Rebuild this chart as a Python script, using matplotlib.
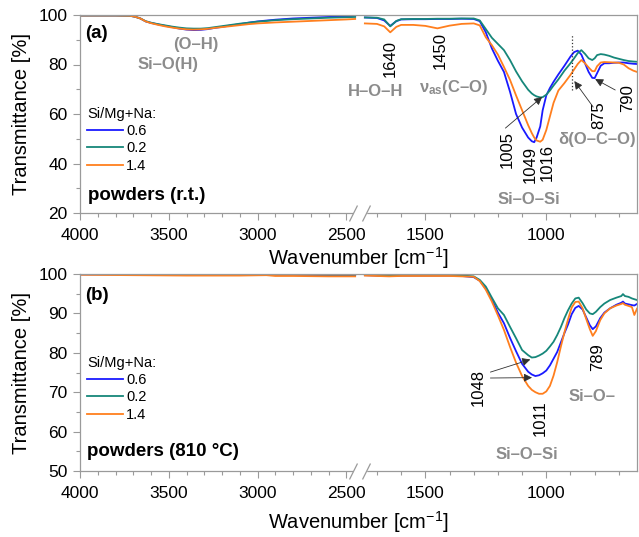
import numpy as np
import matplotlib
matplotlib.use("Agg")
import matplotlib.pyplot as plt
from matplotlib.scale import FuncScale
from matplotlib.ticker import FixedLocator
import matplotlib.transforms as mtransforms

plt.rcParams['font.family'] = ['Liberation Sans', 'DejaVu Sans']
plt.rcParams['mathtext.fontset'] = 'custom'
plt.rcParams['mathtext.rm'] = 'Liberation Sans'
plt.rcParams['mathtext.bf'] = 'Liberation Sans:bold'
plt.rcParams['mathtext.it'] = 'Liberation Sans:italic'

# ---------------- data ----------------
series_labels = ['0.6', '0.2', '1.4']
series_colors = ['#1a1aff', '#16877a', '#ff7f1e']

# panel (a) powders (r.t.) -- high wavenumber segment
wl_a = [4000, 3900, 3800, 3720, 3690, 3660, 3630, 3600, 3560, 3520, 3480, 3440, 3400, 3360,
        3320, 3280, 3240, 3200, 3150, 3100, 3050, 3000, 2900, 2800, 2700, 2600, 2500, 2450]
a_left_06 = [99.8, 99.8, 99.8, 99.7, 99.3, 98.6, 97.4, 96.8, 96.2, 95.6, 95.1, 94.5, 94.1, 93.9,
             94.0, 94.3, 94.8, 95.2, 95.8, 96.3, 96.9, 97.4, 98.1, 98.6, 98.9, 99.2, 99.5, 99.6]
a_left_02 = [99.8, 99.8, 99.8, 99.7, 99.3, 98.6, 97.5, 96.9, 96.3, 95.8, 95.3, 94.9, 94.6, 94.5,
             94.5, 94.7, 95.1, 95.5, 96.0, 96.5, 96.9, 97.3, 97.9, 98.3, 98.6, 98.9, 99.1, 99.2]
a_left_14 = [99.8, 99.8, 99.8, 99.7, 99.3, 98.6, 97.4, 96.7, 96.0, 95.4, 94.9, 94.5, 94.2, 94.1,
             94.2, 94.4, 94.8, 95.1, 95.5, 95.9, 96.3, 96.6, 97.0, 97.3, 97.6, 97.9, 98.2, 98.4]

# panel (a) -- low wavenumber segment
wr_a = [1750, 1700, 1670, 1645, 1620, 1600, 1550, 1500, 1450, 1400, 1350, 1300, 1275, 1250,
        1225, 1200, 1175, 1150, 1125, 1100, 1075, 1060, 1050, 1040, 1025, 1015, 1000, 985, 970,
        950, 925, 900, 885, 870, 855, 840, 825, 810, 800, 790, 775, 760, 740, 720, 700, 680,
        660, 640, 625]
a_right_06 = [99.0, 98.8, 97.8, 95.6, 97.5, 98.2, 98.3, 98.3, 98.4, 98.4, 98.5, 98.4, 97.5, 93.0,
              86.5, 81.5, 77.0, 69.0, 60.0, 54.5, 50.5, 49.0, 48.6, 50.5, 55.0, 61.5, 67.5, 70.5, 73.0,
              76.0, 79.5, 83.2, 85.0, 85.6, 84.0, 80.5, 77.0, 74.6, 74.5, 76.5, 79.5, 80.5, 80.5, 80.7,
              80.8, 80.8, 80.5, 80.3, 80.2]
a_right_02 = [99.0, 98.9, 98.2, 95.4, 97.6, 98.3, 98.4, 98.4, 98.5, 98.5, 98.6, 98.6, 97.8, 94.3,
              90.8, 88.3, 85.8, 81.8, 77.2, 73.2, 69.8, 68.3, 67.6, 67.1, 66.7, 66.8, 67.8, 69.5, 71.5,
              74.0, 77.5, 80.5, 82.5, 84.6, 85.8, 84.3, 82.5, 81.8, 82.5, 83.8, 84.2, 84.0, 83.5, 82.8,
              82.3, 81.8, 81.4, 81.2, 81.1]
a_right_14 = [96.6, 96.4, 95.4, 93.0, 95.2, 96.0, 96.0, 95.6, 94.6, 95.7, 96.4, 96.6, 95.8, 91.0,
              87.8, 84.0, 79.0, 73.8, 67.5, 61.5, 55.5, 52.3, 50.5, 49.3, 48.8, 49.6, 53.5, 59.0, 64.5,
              69.5, 72.5, 75.8, 78.0, 80.2, 81.8, 80.5, 78.8, 77.3, 77.3, 79.3, 80.8, 81.0, 80.9, 80.8,
              80.7, 80.0, 78.5, 77.5, 77.0]

# panel (b) powders (810 C) -- high wavenumber segment
wl_b = [4000, 3700, 3400, 3100, 2950, 2900, 2800, 2600, 2450]
b_left_06 = [99.9, 99.9, 99.8, 99.8, 99.9, 99.8, 99.8, 99.7, 99.7]
b_left_02 = [100.0, 100.0, 99.9, 99.9, 100.0, 99.9, 99.9, 99.8, 99.8]
b_left_14 = [99.8, 99.7, 99.6, 99.6, 99.7, 99.5, 99.5, 99.4, 99.4]

# panel (b) -- low wavenumber segment
wr_b = [1750, 1700, 1650, 1600, 1500, 1400, 1350, 1300, 1275, 1250, 1225, 1200, 1175, 1150,
        1125, 1100, 1075, 1060, 1045, 1030, 1015, 1000, 985, 970, 955, 940, 925, 910, 895, 880,
        866, 850, 835, 820, 808, 795, 777, 760, 736, 710, 690, 683, 675, 660, 646, 636, 625]
b_right_06 = [99.7, 99.6, 99.5, 99.6, 99.6, 99.6, 99.5, 99.2, 98.3, 96.3, 93.5, 90.2, 87.5, 83.8,
              80.4, 77.2, 75.2, 74.5, 74.1, 74.3, 74.8, 75.5, 76.8, 78.5, 80.2, 82.6, 85.0, 87.2, 89.8,
              91.4, 91.9, 91.0, 89.0, 87.0, 86.0, 86.7, 88.8, 90.2, 91.3, 92.2, 92.7, 93.0, 92.5, 92.3,
              92.1, 92.0, 92.4]
b_right_02 = [99.8, 99.7, 99.6, 99.7, 99.7, 99.7, 99.6, 99.4, 98.5, 96.8, 94.0, 91.3, 89.6, 86.6,
              83.7, 80.7, 79.4, 78.8, 78.9, 79.3, 79.8, 80.5, 81.6, 82.8, 84.5, 86.5, 88.8, 90.8, 92.5,
              93.8, 94.0, 92.6, 91.0, 90.0, 89.8, 90.4, 91.6, 92.5, 93.4, 94.0, 94.4, 94.9, 94.4, 94.2,
              93.8, 93.6, 93.4]
b_right_14 = [99.6, 99.5, 99.4, 99.5, 99.5, 99.5, 99.4, 99.3, 98.2, 96.0, 93.0, 89.5, 85.8, 81.5,
              77.5, 74.1, 71.6, 70.6, 70.0, 69.6, 69.6, 70.2, 71.6, 74.2, 77.6, 81.5, 85.2, 88.5, 91.5,
              92.9, 93.0, 91.3, 88.6, 86.0, 84.3, 85.5, 88.3, 90.0, 91.3, 92.0, 92.4, 92.6, 92.2, 91.9,
              91.6, 89.6, 91.2]

x_major = [4000, 3500, 3000, 2500, 1500, 1000]
x_minor = [3900, 3800, 3700, 3600, 3400, 3300, 3200, 3100, 2900, 2800, 2700, 2600,
           1700, 1600, 1400, 1300, 1200, 1100, 900, 800, 700]

# ---------------- broken-axis scale ----------------
S1, S2 = 0.1776, 0.242       # px per cm-1 in the two segments
P1 = (4000 - 2450) * S1       # end of first segment
P2 = P1 + 9.7                 # start of second segment


def _fwd(w):
    w = np.asarray(w, dtype=float)
    p = np.where(w >= 2450, (4000 - w) * S1,
                 np.where(w <= 1750, P2 + (1750 - w) * S2,
                          P1 + (2450 - w) * (P2 - P1) / 700.0))
    return -p


def _inv(q):
    p = -np.asarray(q, dtype=float)
    return np.where(p <= P1, 4000 - p / S1,
                    np.where(p >= P2, 1750 - (p - P2) / S2,
                             2450 - (p - P1) * 700.0 / (P2 - P1)))


GRAY = '#8c8c8c'
SPINE = '#9a9a9a'

fig = plt.figure(figsize=(6.39, 5.37), dpi=100)
W, H = 639, 537
axA = fig.add_axes([80 / W, 1 - 213 / H, 557 / W, 198 / H])
axB = fig.add_axes([80 / W, 1 - 471 / H, 557 / W, 197 / H])


def setup(ax, ylo, yhi, ymaj, ymin):
    ax.set_xscale(FuncScale(ax, (_fwd, _inv)))
    ax.set_xlim(4000, 625)
    ax.set_ylim(ylo, yhi)
    ax.xaxis.set_major_locator(FixedLocator(x_major))
    ax.xaxis.set_minor_locator(FixedLocator(x_minor))
    ax.set_xticklabels([str(v) for v in x_major])
    ax.yaxis.set_major_locator(FixedLocator(ymaj))
    ax.yaxis.set_minor_locator(FixedLocator(ymin))
    for s in ax.spines.values():
        s.set_color(SPINE)
        s.set_linewidth(0.9)
    ax.tick_params(which='major', direction='out', length=5, width=0.8, color=SPINE,
                   labelsize=12.5, pad=4)
    ax.tick_params(which='minor', direction='out', length=3, width=0.8, color=SPINE)
    ax.tick_params(axis='x', which='major', pad=6)
    # axis break
    trans = mtransforms.blended_transform_factory(ax.transData, ax.transAxes)
    ax.plot([2445, 1755], [0, 0], transform=trans, color='white', lw=2.5,
            clip_on=False, zorder=3)
    ax.plot([2463, 1744], [0, 0], transform=trans, ls='none', marker=[(-1, -2), (1, 2)],
            ms=11.5, mec=SPINE, mew=0.9, clip_on=False, zorder=4)


setup(axA, 20, 100, [20, 40, 60, 80, 100], [30, 50, 70, 90])
setup(axB, 50, 100, [50, 60, 70, 80, 90, 100], [55, 65, 75, 85, 95])

# curves
for ys_l, ys_r, c, lab in zip([a_left_06, a_left_02, a_left_14], [a_right_06, a_right_02, a_right_14],
                              series_colors, series_labels):
    axA.plot(wl_a, ys_l, color=c, lw=1.3, label=lab)
    axA.plot(wr_a, ys_r, color=c, lw=1.3)
for ys_l, ys_r, c, lab in zip([b_left_06, b_left_02, b_left_14], [b_right_06, b_right_02, b_right_14],
                              series_colors, series_labels):
    axB.plot(wl_b, ys_l, color=c, lw=1.3, label=lab)
    axB.plot(wr_b, ys_r, color=c, lw=1.3)

# axis labels
for ax, ypos in [(axA, (213 - 258) / 198), (axB, (471 - 522) / 197)]:
    ax.set_xlabel('Wavenumber [cm$^{-1}$]', fontsize=14.5)
    ax.xaxis.set_label_coords(0.5, ypos)
    ax.xaxis.label.set_verticalalignment('center')
    ax.set_ylabel('Transmittance [%]', fontsize=14.5)
    ax.yaxis.set_label_coords((22 - 80) / 557, 0.5)
    ax.yaxis.label.set_verticalalignment('center')

# legends
for ax, ytop in [(axA, (213 - 107) / 198), (axB, (471 - 356) / 197)]:
    leg = ax.legend(title='Si/Mg+Na:', loc='upper left', bbox_to_anchor=(0.013, ytop),
                    frameon=False, fontsize=10.5, title_fontsize=10.5, borderpad=0,
                    borderaxespad=0, handlelength=2.45, handletextpad=0.2,
                    labelspacing=0.22, alignment='left')

# panel texts
axA.text(0.01, (213 - 33) / 198, '(a)', transform=axA.transAxes, fontsize=13.5,
         fontweight='bold', ha='left', va='center')
axB.text(0.01, (471 - 295) / 197, '(b)', transform=axB.transAxes, fontsize=13.5,
         fontweight='bold', ha='left', va='center')
axA.text(0.0144, (213 - 195.5) / 198, 'powders (r.t.)', transform=axA.transAxes,
         fontsize=13.5, fontweight='bold', ha='left', va='center')
axB.text(0.0126, (471 - 452) / 197, 'powders (810 °C)', transform=axB.transAxes,
         fontsize=13.5, fontweight='bold', ha='left', va='center')

# gray assignment labels
gkw = dict(color=GRAY, fontsize=12, fontweight='bold', ha='center', va='center')
axA.text(3347, 87.9, '(O–H)', **gkw)
axA.text(3504, 80.2, 'Si–O(H)', **gkw)
axA.text(1707, 68.9, 'H–O–H', **gkw)
axA.text(1384, 70.9, r'ν$_{\mathbf{as}}$(C–O)', **gkw)
axA.text(1074, 25.3, 'Si–O–Si', **gkw)
axA.text(789, 49.5, 'δ(O–C–O)', **gkw)
axB.text(810, 68.8, 'Si–O–', **gkw)
axB.text(1079, 54.1, 'Si–O–Si', **gkw)

# rotated wavenumber labels
nkw = dict(color='black', fontsize=12, rotation=90, ha='center', va='center')
for w, t, s in [(1645, 82.6, '1640'), (1438, 85.5, '1450'), (1161, 45.5, '1005'),
                (1066, 39.8, '1049'), (996, 40.6, '1016'), (785, 59.6, '875'),
                (665, 66.5, '790')]:
    axA.text(w, t, s, **nkw)
for w, t, s in [(1281, 71.1, '1048'), (1025, 63.5, '1011'), (789, 78.9, '789')]:
    axB.text(w, t, s, **nkw)

# arrows
akw = dict(arrowstyle='-|>', color='#303030', lw=0.6, mutation_scale=12, shrinkA=0, shrinkB=0)
axA.annotate('', xy=(1017, 66.9), xytext=(1169, 54.3), arrowprops=akw)
axA.annotate('', xy=(884, 73.3), xytext=(806, 62.8), arrowprops=akw)
axA.annotate('', xy=(798, 74.1), xytext=(715, 69.7), arrowprops=akw)
axB.annotate('', xy=(1066, 78.3), xytext=(1231, 75.1), arrowprops=akw)
axB.annotate('', xy=(1059, 73.7), xytext=(1231, 73.6), arrowprops=akw)

# dotted marker line at 875
axA.plot([893, 893], [69.7, 91.9], color='#333333', ls=':', lw=0.9)

fig.savefig('out.png', dpi=100)
